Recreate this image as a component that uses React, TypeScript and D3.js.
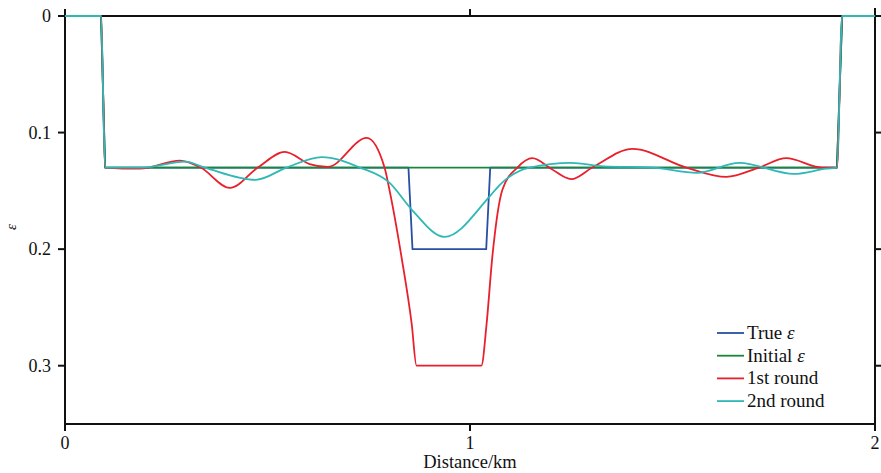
import React from "react";
import * as d3 from "d3";

// distance (km) / epsilon pairs
const trueX = [0, 0.089, 0.099, 0.848, 0.858, 1.04, 1.05, 1.906, 1.919, 2];
const trueY = [0, 0, 0.13, 0.13, 0.2, 0.2, 0.13, 0.13, 0, 0];

const initX = [0, 0.089, 0.099, 1.906, 1.919, 2];
const initY = [0, 0, 0.13, 0.13, 0, 0];

const round1X = [0, 0.089, 0.099, 0.185, 0.284, 0.335, 0.407, 0.476, 0.543, 0.604, 0.649, 0.745, 0.789, 0.801, 0.831, 0.856, 0.868, 1.028, 1.041, 1.055, 1.08, 1.117, 1.154, 1.2, 1.25, 1.302, 1.401, 1.534, 1.633, 1.714, 1.781, 1.869, 1.906, 1.919, 2];
const round1Y = [0, 0, 0.13, 0.131, 0.124, 0.13, 0.1475, 0.13, 0.1166, 0.127, 0.1295, 0.1046, 0.13, 0.149, 0.207, 0.264, 0.3, 0.3, 0.264, 0.207, 0.149, 0.13, 0.122, 0.131, 0.14, 0.13, 0.114, 0.13, 0.138, 0.13, 0.122, 0.13, 0.13, 0, 0];

const round2X = [0, 0.089, 0.099, 0.19, 0.296, 0.345, 0.471, 0.547, 0.634, 0.728, 0.801, 0.856, 0.937, 1.048, 1.073, 1.147, 1.25, 1.33, 1.45, 1.56, 1.665, 1.8, 1.88, 1.906, 1.919, 2];
const round2Y = [0, 0, 0.13, 0.13, 0.125, 0.13, 0.1405, 0.13, 0.121, 0.13, 0.143, 0.166, 0.1895, 0.155, 0.145, 0.13, 0.126, 0.129, 0.13, 0.1345, 0.126, 0.1355, 0.131, 0.13, 0, 0];

const xTicks = [0, 1, 2];
const yTicks = [0, 0.1, 0.2, 0.3];
const seriesNames = ["True \u03b5", "Initial \u03b5", "1st round", "2nd round"];

const W = 881, H = 473;
const left = 65, right = 875, top = 16, bottom = 424;
const font = "'Liberation Serif', 'Times New Roman', serif";

export default function App() {
  const x = d3.scaleLinear().domain([0, 2]).range([left, right]);
  const y = d3.scaleLinear().domain([0, 0.35]).range([top, bottom]);

  const mk = (xs: number[], ys: number[], smooth: boolean) =>
    d3.line<number>()
      .x((d) => x(d))
      .y((d, i) => y(ys[i]))
      .curve(smooth ? d3.curveMonotoneX : d3.curveLinear)(xs) || "";

  const series = [
    { name: seriesNames[0], color: "#2750a3", d: mk(trueX, trueY, false) },
    { name: seriesNames[1], color: "#18873a", d: mk(initX, initY, false) },
    { name: seriesNames[2], color: "#e8202b", d: mk(round1X, round1Y, true) },
    { name: seriesNames[3], color: "#2fb8b6", d: mk(round2X, round2Y, true) },
  ];

  const tick = 7;
  return (
    <svg width={W} height={H} style={{ position: "absolute", left: 0, top: 0, background: "#fff" }} fontFamily={font}>
      {/* frame */}
      <g stroke="#111" strokeWidth={2} fill="none">
        <line x1={left} y1={top} x2={right} y2={top} />
        <line x1={left} y1={bottom} x2={right} y2={bottom} />
        <line x1={left} y1={top} x2={left} y2={bottom} />
        <line x1={right} y1={top - 8} x2={right} y2={bottom} />
        {xTicks.map((t) => (
          <g key={"xt" + t}>
            <line x1={x(t)} x2={x(t)} y1={bottom} y2={bottom + tick} />
            <line x1={x(t)} x2={x(t)} y1={top} y2={top - tick} />
          </g>
        ))}
        {yTicks.map((t) => (
          <g key={"yt" + t}>
            <line x1={left - tick} x2={left} y1={y(t)} y2={y(t)} />
            <line x1={right} x2={right + tick} y1={y(t)} y2={y(t)} />
          </g>
        ))}
      </g>
      {xTicks.map((t) => (
        <text key={"xl" + t} x={x(t)} y={449} fontSize={18} textAnchor="middle" fill="#111">
          {d3.format("d")(t)}
        </text>
      ))}
      {yTicks.map((t) => (
        <text key={"yl" + t} x={left - 14} y={y(t) + 6} fontSize={18} textAnchor="end" fill="#111">
          {t === 0 ? "0" : d3.format(".1f")(t)}
        </text>
      ))}
      <text x={(left + right) / 2} y={468} fontSize={18.5} textAnchor="middle" fill="#111">
        Distance/km
      </text>
      <text transform={`translate(16,227) rotate(-90)`} fontSize={15} fontStyle="italic" textAnchor="middle" fill="#111">
        {"\u03b5"}
      </text>

      {/* curves */}
      <g fill="none" strokeWidth={1.8} strokeLinejoin="round">
        {series.map((s) => (
          <path key={s.name} d={s.d} stroke={s.color} />
        ))}
      </g>

      {/* legend */}
      {series.map((s, i) => (
        <g key={"lg" + i} transform={`translate(717,${333 + i * 22.7})`}>
          <line x1={0} x2={27} y1={0} y2={0} stroke={s.color} strokeWidth={1.8} />
          <text x={30} y={6} fontSize={19} fill="#111">
            {i < 2 ? (
              <>
                {s.name.slice(0, -1)}
                <tspan fontStyle="italic">{"\u03b5"}</tspan>
              </>
            ) : (
              s.name
            )}
          </text>
        </g>
      ))}
    </svg>
  );
}
